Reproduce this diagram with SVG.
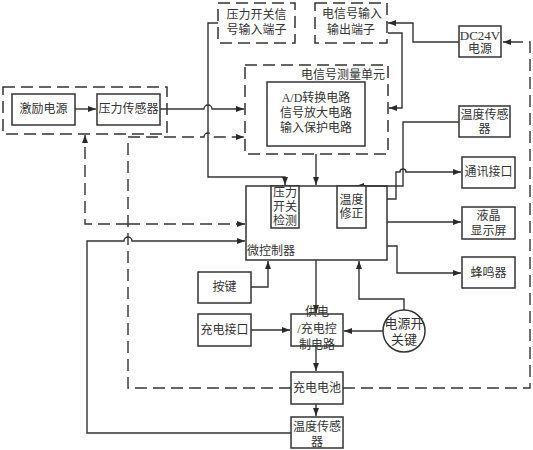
<svg xmlns="http://www.w3.org/2000/svg" width="533" height="450" viewBox="0 0 533 450">
<defs>
<marker id="arr" markerWidth="8" markerHeight="6" refX="8" refY="3" orient="auto" markerUnits="userSpaceOnUse">
<path d="M0,0 L8,3 L0,6 z" fill="#2a2a2a"/>
</marker>
<style>
.box{fill:#fff;stroke:#333;stroke-width:1.5}
.dbox{fill:none;stroke:#333;stroke-width:1.5;stroke-dasharray:12 6}
.ln{fill:none;stroke:#333;stroke-width:1.4}
.dl{fill:none;stroke:#333;stroke-width:1.4;stroke-dasharray:12 6}
text{font-family:"Liberation Serif","Noto Sans CJK SC",serif;font-size:12px;fill:#333;text-anchor:middle;dominant-baseline:central}
.big{font-size:13px}
</style>
</defs>
<rect width="533" height="450" fill="#fff"/>

<g id="connectors">
<path class="ln" d="M75,109 H96" marker-end="url(#arr)"/>
<path class="ln" d="M160,109 H204 A4,4 0 0 1 212,109 H244" marker-end="url(#arr)"/>
<path class="ln" d="M218,23 H208 V177 H285 V185" marker-end="url(#arr)"/>
<path class="ln" d="M316,154 V185" marker-end="url(#arr)"/>
<path class="ln" d="M459,42 H413 V23 H388" marker-end="url(#arr)"/>
<path class="ln" d="M388,33 H402 V108 H389" marker-end="url(#arr)"/>
<path class="ln" d="M459,122 H403 V186 H356" marker-end="url(#arr)"/>
<path class="ln" d="M387,199 H396 V172 H400 A3,3 0 0 1 406,172 H461" marker-end="url(#arr)"/>
<path class="ln" d="M387,222 H461" marker-end="url(#arr)"/>
<path class="ln" d="M387,246 H397 V273 H461" marker-end="url(#arr)"/>
<path class="ln" d="M251,287 H268 V261" marker-end="url(#arr)"/>
<path class="ln" d="M251,330 H290" marker-end="url(#arr)"/>
<path class="ln" d="M383,331 H344" marker-end="url(#arr)"/>
<path class="ln" d="M404,310 V299 H359 V261" marker-end="url(#arr)"/>
<path class="ln" d="M316,260 V313" marker-end="url(#arr)"/>
<path class="ln" d="M316,346 V371" marker-end="url(#arr)"/>
<path class="ln" d="M316,404 V416" marker-end="url(#arr)"/>
<path class="ln" d="M291,433 H87 V241 H124 A4,4 0 0 1 132,241 H245" marker-end="url(#arr)"/>
<path class="dl" d="M343,388 H530 V42 H503" marker-end="url(#arr)"/>
<path class="dl" d="M291,388 H128 V137 H204 A4,4 0 0 1 212,137 H244" marker-end="url(#arr)"/>
<path class="dl" d="M128,224 H245" marker-end="url(#arr)"/>
<path class="dl" d="M128,224 H85 V135" marker-end="url(#arr)"/>
</g>

<g id="sensor-group">
<rect class="dbox" x="3" y="87" width="164" height="47"/>
</g>
<g id="excitation">
<rect class="box" x="12" y="94" width="63" height="31"/>
<text x="43.5" y="109">激励电源</text>
</g>
<g id="pressure-sensor">
<rect class="box" x="97" y="94" width="63" height="31"/>
<text x="128.5" y="109">压力传感器</text>
</g>
<g id="pressure-switch-terminal">
<rect class="dbox" x="218" y="3" width="77" height="40"/>
<text x="256.5" y="15">压力开关信</text>
<text x="256.5" y="30">号输入端子</text>
</g>
<g id="signal-io-terminal">
<rect class="dbox" x="315" y="3" width="72" height="40"/>
<text x="352" y="14">电信号输入</text>
<text x="351" y="30">输出端子</text>
</g>
<g id="dc24v">
<rect class="box" x="459" y="26" width="42" height="31"/>
<text class="big" x="480" y="35">DC24V</text>
<text x="480" y="49">电源</text>
</g>
<g id="measure-unit">
<rect class="dbox" x="245" y="65" width="143" height="89"/>
<text x="385" y="75" style="text-anchor:end">电信号测量单元</text>
<rect class="box" x="267" y="82" width="98" height="64"/>
<text x="316" y="98">A/D转换电路</text>
<text x="316" y="113">信号放大电路</text>
<text x="316" y="128">输入保护电路</text>
</g>
<g id="temp-sensor-right">
<rect class="box" x="459" y="106" width="51" height="31"/>
<text x="484.5" y="115">温度传感</text>
<text x="484.5" y="129">器</text>
</g>
<g id="comm">
<rect class="box" x="462" y="157" width="53" height="31"/>
<text x="488.5" y="172">通讯接口</text>
</g>
<g id="lcd">
<rect class="box" x="462" y="207" width="53" height="32"/>
<text x="488.5" y="216">液晶</text>
<text x="488.5" y="231">显示屏</text>
</g>
<g id="buzzer">
<rect class="box" x="462" y="257" width="53" height="31"/>
<text x="488.5" y="273">蜂鸣器</text>
</g>
<g id="mcu">
<rect class="box" x="246" y="186" width="141" height="74" style="fill:none"/>
<rect class="box" x="271" y="186" width="28" height="42"/>
<text x="285" y="193">压力</text>
<text x="285" y="207">开关</text>
<text x="285" y="221">检测</text>
<rect class="box" x="337" y="186" width="29" height="42"/>
<text x="351.5" y="200">温度</text>
<text x="351.5" y="214">修正</text>
<text x="247" y="251" style="text-anchor:start">微控制器</text>
</g>
<g id="keys">
<rect class="box" x="198" y="272" width="53" height="31"/>
<text x="224.5" y="287">按键</text>
</g>
<g id="charge-port">
<rect class="box" x="198" y="314" width="53" height="32"/>
<text x="224.5" y="330">充电接口</text>
</g>
<g id="power-ctrl">
<rect class="box" x="291" y="314" width="52" height="32"/>
<text x="317" y="312">供电</text>
<text x="317" y="329">/充电控</text>
<text x="317" y="345">制电路</text>
</g>
<g id="power-switch">
<circle class="box" cx="404" cy="331" r="21"/>
<text class="big" x="404" y="323">电源开</text>
<text class="big" x="404" y="339">关键</text>
</g>
<g id="battery">
<rect class="box" x="291" y="372" width="52" height="32"/>
<text x="317" y="388">充电电池</text>
</g>
<g id="temp-sensor-bottom">
<rect class="box" x="291" y="417" width="52" height="31"/>
<text x="317" y="427">温度传感</text>
<text x="317" y="442">器</text>
</g>
</svg>
